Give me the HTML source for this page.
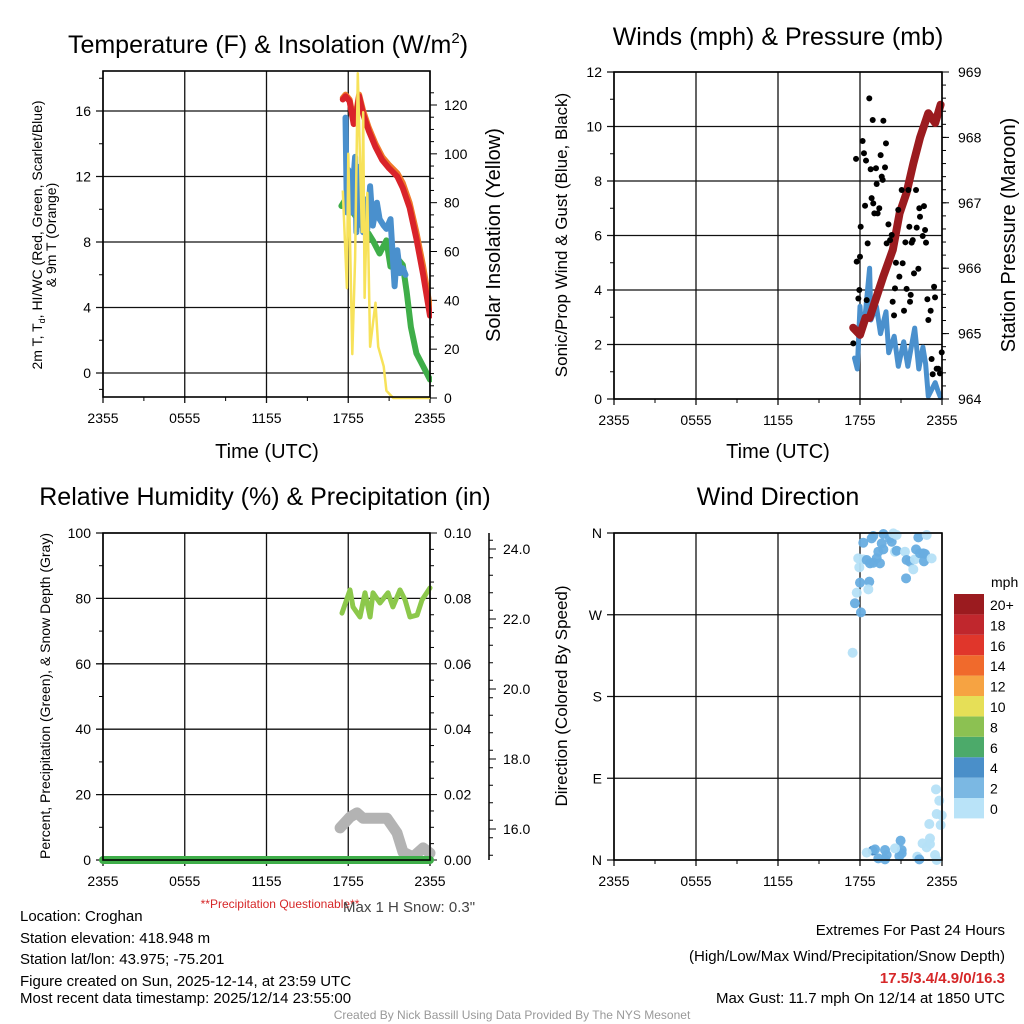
<!DOCTYPE html>
<html><head><meta charset="utf-8"><style>
html,body{margin:0;padding:0;background:#fff;}
svg{display:block;font-family:"Liberation Sans",sans-serif;}
</style></head><body>
<svg id="c" width="1024" height="1024" viewBox="0 0 1024 1024" xmlns="http://www.w3.org/2000/svg">
<rect width="1024" height="1024" fill="#fff"/>
<g id="layer"></g>
<!-- titles -->
<text x="268" y="53" font-size="25" text-anchor="middle">Temperature (F) &amp; Insolation (W/m<tspan font-size="15" dy="-10">2</tspan><tspan dy="10">)</tspan></text>
<text x="778" y="45" font-size="25" text-anchor="middle">Winds (mph) &amp; Pressure (mb)</text>
<text x="265" y="505" font-size="25" text-anchor="middle">Relative Humidity (%) &amp; Precipitation (in)</text>
<text x="778" y="505" font-size="25" text-anchor="middle">Wind Direction</text>
<!-- axis titles -->
<text x="267" y="458" font-size="20" text-anchor="middle">Time (UTC)</text>
<text x="778" y="458" font-size="20" text-anchor="middle">Time (UTC)</text>
<text transform="translate(42,235) rotate(-90)" font-size="14" text-anchor="middle">2m T, T<tspan font-size="9" dy="3">d</tspan><tspan dy="-3">, HI/WC (Red, Green, Scarlet/Blue)</tspan></text>
<text transform="translate(56,235) rotate(-90)" font-size="14" text-anchor="middle">&amp; 9m T (Orange)</text>
<text transform="translate(500,235) rotate(-90)" font-size="20" text-anchor="middle">Solar Insolation (Yellow)</text>
<text transform="translate(567,235) rotate(-90)" font-size="17" text-anchor="middle">Sonic/Prop Wind &amp; Gust (Blue, Black)</text>
<text transform="translate(1015,235) rotate(-90)" font-size="20" text-anchor="middle">Station Pressure (Maroon)</text>
<text transform="translate(50,696) rotate(-90)" font-size="14" text-anchor="middle">Percent, Precipitation (Green), &amp; Snow Depth (Gray)</text>
<text transform="translate(567,696) rotate(-90)" font-size="17" text-anchor="middle">Direction (Colored By Speed)</text>
<!-- notes -->
<text x="280" y="908" font-size="12" fill="#d62728" text-anchor="middle">**Precipitation Questionable**</text>
<text x="343" y="912" font-size="15" fill="#444">Max 1 H Snow: 0.3"</text>
<g font-size="15">
<text x="20" y="921">Location: Croghan</text>
<text x="20" y="943">Station elevation: 418.948 m</text>
<text x="20" y="964">Station lat/lon: 43.975; -75.201</text>
<text x="20" y="986">Figure created on Sun, 2025-12-14, at 23:59 UTC</text>
<text x="20" y="1003">Most recent data timestamp: 2025/12/14 23:55:00</text>
</g>
<g font-size="15" text-anchor="end">
<text x="1005" y="935">Extremes For Past 24 Hours</text>
<text x="1005" y="961">(High/Low/Max Wind/Precipitation/Snow Depth)</text>
<text x="1005" y="983" fill="#d62728" font-weight="bold">17.5/3.4/4.9/0/16.3</text>
<text x="1005" y="1003">Max Gust: 11.7 mph On 12/14 at 1850 UTC</text>
</g>
<text x="512" y="1019" font-size="12" fill="#999" text-anchor="middle">Created By Nick Bassill Using Data Provided By The NYS Mesonet</text>
</svg>
<script>
// ---- data (hours since 23:55 prior day, values) ----
const xTickLabels = ["2355","0555","1155","1755","2355"];
const tempHours = [17.6,17.8,18.1,18.4,18.6,18.8,19.1,19.5,20.0,20.5,21.0,21.6,22.0,22.5,23.0,23.5,24];
const tempValues = [16.7,16.9,16.6,15.2,15.8,16.9,15.8,14.8,13.8,13.0,12.5,12.0,11.3,10.1,8.2,6.0,3.5];
const temp9mValues = [16.8,17.0,16.7,15.4,16.0,17.0,16.0,15.0,14.0,13.2,12.7,12.2,11.6,10.4,8.6,6.5,4.0];
const dewHours = [17.5,17.8,18.2,18.6,19.0,19.5,19.8,20.3,20.8,21.1,21.5,22.0,22.3,22.6,23.0,23.5,24];
const dewValues = [10.2,10.6,10.0,9.5,9.0,8.5,8.1,7.3,8.1,6.5,7.1,6.6,4.9,2.8,1.2,0.4,-0.4];
const wcHours = [17.8,17.9,18.0,18.2,18.5,18.6,18.7,19.1,19.2,19.4,19.6,19.8,20.1,20.3,20.6,20.8,21.1,21.4,21.6,21.8,22.0,22.2];
const wcValues = [15.6,9.8,12.4,9.8,13.2,8.6,12.6,8.6,10.6,8.8,11.4,9.0,10.4,9.4,9.0,8.8,9.4,5.3,7.5,6.1,6.4,6.0];
const solarHours = [17.6,17.9,18.0,18.3,18.5,18.7,19.0,19.1,19.2,19.4,19.6,20.0,20.2,20.6,20.8,21.3,24];
const solarValues = [85,45,100,18,57,133,68,117,41,84,21,39,21,13,3,0,0];
const tempTicks = [0,4,8,12,16];
const solarTicks = [0,20,40,60,80,100,120];

const presHours = [17.5,18.0,18.4,18.7,19.7,20.4,20.9,21.4,21.9,22.4,23.0,23.5,23.9];
const presValues = [965.09,964.98,965.24,965.24,965.87,966.28,966.84,967.15,967.6,968.0,968.37,968.22,968.5];
const windHours = [17.6,17.8,18.0,18.1,18.4,18.7,18.8,19.2,19.5,19.9,20.1,20.5,20.8,21.2,21.5,22.0,22.3,22.6,22.8,23.0,23.3,23.5,23.7,23.9];
const windValues = [1.5,1.1,3.4,2.6,3.2,4.8,2.9,3.4,2.4,3.2,1.7,2.3,1.2,2.1,1.2,2.6,1.1,1.9,1.3,0.1,0.4,0.6,0.3,0.05];
const gustHours = [17.51,17.76,18.00,17.88,17.95,18.05,18.19,18.29,17.71,18.44,18.37,18.49,18.56,18.68,18.78,18.85,18.93,18.97,19.05,19.17,19.22,19.29,19.41,19.51,19.59,19.66,19.71,19.83,19.90,20.08,19.95,20.20,20.32,20.39,20.49,20.56,20.63,20.80,20.88,21.05,21.12,21.22,21.32,21.41,21.54,21.61,21.66,21.71,21.78,21.86,21.95,22.10,22.15,22.27,22.34,22.39,22.59,22.68,22.76,22.83,22.93,23.00,23.17,23.24,23.42,23.49,23.32,23.61,23.73,23.98,23.85];
const gustValues = [2.04,5.04,5.22,3.69,4.0,6.32,9.47,9.02,8.81,8.75,7.09,3.63,5.71,11.03,8.43,7.37,10.24,7.18,6.81,8.47,7.89,6.81,7.0,8.95,8.16,8.04,10.21,8.5,9.38,6.41,5.71,5.83,6.02,3.57,3.07,4.06,5.0,6.94,4.49,7.67,4.98,3.24,5.75,4.04,7.67,6.32,3.57,3.82,5.74,5.83,4.61,7.67,6.29,4.78,7.0,6.69,5.98,7.08,6.2,5.74,3.66,2.9,3.24,1.47,4.12,3.73,0.91,1.11,1.11,1.71,0.94];
const windTicks = [0,2,4,6,8,10,12];
const presTicks = [964,965,966,967,968,969];

const rhHours = [17.54,18.13,18.35,18.86,19.23,19.6,19.82,20.33,20.92,21.28,21.8,22.17,22.53,23.05,23.41,24];
const rhValues = [75.5,82.6,77.4,74.3,81.7,74.3,81.7,78.6,81.7,77.4,82.6,79.5,74.3,74.9,79.5,83.2];
const snowHours = [17.4,18.13,18.64,19.08,20.84,21.58,22.02,22.75,23.49,24];
const snowValues = [16.03,16.34,16.46,16.31,16.31,15.89,15.34,15.2,15.46,15.31];
const precipHours = [0,24];
const precipValues = [0,0];
const rhTicks = [0,20,40,60,80,100];
const precipTicks = ["0.00","0.02","0.04","0.06","0.08","0.10"];
const snowTicks = [16,18,20,22,24];

const dirHours = [18.24,18.85,18.97,19.71,19.59,20.19,20.32,20.44,20.68,19.34,19.71,19.22,18.97,19.46,18.24,17.87,18.49,18.73,17.95,18.0,18.68,17.76,18.61,17.63,18.07,17.46,20.56,20.68,21.29,21.41,21.65,22.02,21.9,21.37,22.27,22.88,22.1,22.39,22.63,22.76,22.68,23.24,23.56,23.8,23.61,23.98,23.07,23.9,23.12,22.58,23.12,22.88,20.97,21.05,20.88,21.05,20.56,19.83,19.95,19.34,18.93,19.1,18.49,19.83,22.19,22.34,23.49,23.61];
const dirValues = [349.3,354.1,356.7,358.9,348.6,354.1,350.4,359.6,357.8,339.4,342.0,332.1,327.3,326.6,331.0,332.1,330.3,326.6,322.2,305.3,306.4,294.3,298.0,282.6,272.6,228.2,339.4,340.5,339.4,330.3,328.4,331.0,320.0,310.1,355.2,357.8,342.0,337.6,337.6,336.9,328.8,332.1,77.8,65.3,50.6,49.2,39.6,38.5,23.8,18.3,17.6,13.9,21.3,11.0,4.4,7.3,12.8,11.0,5.5,1.8,10.3,11.7,8.1,0.7,3.7,0.7,5.5,0.0];
const dirSpeeds = [3,3,3,3,3,3,3,1,1,3,3,3,3,3,1,1,3,3,1,3,3,1,1,3,3,1,1,3,1,3,3,1,1,3,3,1,3,3,3,3,3,1,1,1,1,1,1,1,1,1,1,1,3,3,3,3,1,3,3,3,5,3,1,3,1,3,1,1];
const dirTicks = ["N","E","S","W","N"];
const speedLabels = ["0","2","4","6","8","10","12","14","16","18","20+"];
const speedColors = ["#b9e3f8","#7bb8e3","#4a8fc9","#4caa6a","#8cc152","#e6df57","#f6a342","#f06a2c","#e0362b","#c0272d","#9b1b1f"];
const dotColors = ["#b5e0f7","#68ade0","#3f85c2"];

// ---- helpers ----
const NS="http://www.w3.org/2000/svg";
const layer=document.getElementById('layer');
function mk(tag,attrs,parent){const e=document.createElementNS(NS,tag);for(const k in attrs)e.setAttribute(k,attrs[k]);(parent||layer).appendChild(e);return e;}
function scale(d0,d1,r0,r1){return v=>r0+(v-d0)/(d1-d0)*(r1-r0);}
function path(xs,ys,fx,fy){return xs.map((h,i)=>(i?'L':'M')+fx(h).toFixed(1)+','+fy(ys[i]).toFixed(1)).join(' ');}

function panel(L,R,T,B,name){
  const fx=scale(0,24,L,R);
  const g=mk('g',{});
  
  
  for(let i=0;i<5;i++){
    const x=fx(i*6);
    const vl=mk('line',{x1:x,y1:T,x2:x,y2:B+6,stroke:'#111','stroke-width':1.3},g);
    
    
    const t=mk('text',{x:x,y:B+26,'font-size':14,'text-anchor':'middle'},g);
    t.textContent=xTickLabels[i];
    
    
  }
  for(let i=0;i<4;i++){mk('line',{x1:fx(i*6+3),y1:B,x2:fx(i*6+3),y2:B+4,stroke:'#000'},g);}
  return {fx,g};
}
function hgrid(g,L,R,y,label){
  const l=mk('line',{x1:L-7,y1:y,x2:R,y2:y,stroke:'#111','stroke-width':1.3},g);
  
  
  if(label!==null){const t=mk('text',{x:L-12,y:y+5,'font-size':14,'text-anchor':'end'},g);t.textContent=label;
  
  }
}
function frame(L,R,T,B){mk('rect',{x:L,y:T,width:R-L,height:B-T,fill:'none',stroke:'#000','stroke-width':1.6});}

// ---- Panel 1: temperature ----
(function(){
  const L=103,R=430,T=71,B=397;
  const {fx,g}=panel(L,R,T,B,'temperature');
  const fy=scale(0,16,373,111);
  const fs=scale(0,120,398,105);
  tempTicks.forEach(v=>hgrid(g,L,R,fy(v),String(v)));
  [-1,2,6,10,14,18].forEach(v=>mk('line',{x1:L-4,y1:fy(v),x2:L,y2:fy(v),stroke:'#000'}));
  solarTicks.forEach(v=>{mk('line',{x1:R,y1:fs(v),x2:R+7,y2:fs(v),stroke:'#000'});
    const t=mk('text',{x:R+14,y:fs(v)+5,'font-size':14});t.textContent=v;
    
    });
  for(let v=5;v<130;v+=5){if(v%20)mk('line',{x1:R,y1:fs(v),x2:R+4,y2:fs(v),stroke:'#000'});}
  const cp=mk('clipPath',{id:'cp1'});mk('rect',{x:L,y:T-5,width:R-L+2,height:B-T+5},cp);
  const s=mk('g',{'clip-path':'url(#cp1)',fill:'none','stroke-linejoin':'round','stroke-linecap':'round'});
  const p1=mk('path',{d:path(dewHours,dewValues,fx,fy),stroke:'#3fae49','stroke-width':6},s);
  
  
  const p2=mk('path',{d:path(wcHours,wcValues,fx,fy),stroke:'#4a90cd','stroke-width':6},s);
  
  
  const p3=mk('path',{d:path(tempHours,temp9mValues,fx,fy),stroke:'#f07a2a','stroke-width':6},s);
  
  
  const p4=mk('path',{d:path(tempHours,tempValues,fx,fy),stroke:'#d9232a','stroke-width':6},s);
  
  
  const sp=mk('g',{fill:'none'});
  const p5=mk('path',{d:path(solarHours,solarValues,fx,fs),stroke:'#f7e25a','stroke-width':2.5,fill:'none','stroke-linejoin':'round'},sp);
  
  
  frame(L,R,T,B);
})();

// ---- Panel 2: winds ----
(function(){
  const L=614,R=942,T=72,B=399;
  const {fx,g}=panel(L,R,T,B,'winds');
  const fy=scale(0,12,B,T);
  const fp=scale(964,969,B,T);
  windTicks.forEach(v=>hgrid(g,L,R,fy(v),String(v)));
  for(let v=1;v<12;v+=2)mk('line',{x1:L-4,y1:fy(v),x2:L,y2:fy(v),stroke:'#000'});
  presTicks.forEach(v=>{mk('line',{x1:R,y1:fp(v),x2:R+7,y2:fp(v),stroke:'#000'});
    const t=mk('text',{x:R+16,y:fp(v)+5,'font-size':14});t.textContent=v;
    
    });
  for(let v=964.2;v<969;v+=0.2){mk('line',{x1:R,y1:fp(v),x2:R+4,y2:fp(v),stroke:'#000'});}
  const s=mk('g',{fill:'none','stroke-linejoin':'round','stroke-linecap':'round'});
  const w=mk('path',{d:path(windHours,windValues,fx,fy),stroke:'#4a90cd','stroke-width':5},s);
  
  
  const p=mk('path',{d:path(presHours,presValues,fx,fp),stroke:'#9b1b1f','stroke-width':8},s);
  
  
  gustHours.forEach((h,i)=>{const c=mk('circle',{cx:fx(h),cy:fy(gustValues[i]),r:3,fill:'#000'});
    
    });
  frame(L,R,T,B);
})();

// ---- Panel 3: humidity ----
(function(){
  const L=103,R=430,T=533,B=860;
  const {fx,g}=panel(L,R,T,B,'humidity');
  const fy=scale(0,100,B,T);
  const fsn=scale(16,24,829,549);
  rhTicks.forEach((v,i)=>{hgrid(g,L,R,fy(v),String(v));
    mk('line',{x1:R,y1:fy(v),x2:R+7,y2:fy(v),stroke:'#000'});
    const t=mk('text',{x:R+14,y:fy(v)+5,'font-size':14});t.textContent=precipTicks[i];
    
    });
  for(let v=5;v<100;v+=5){if(v%20)mk('line',{x1:R,y1:fy(v),x2:R+4,y2:fy(v),stroke:'#000'});}
  for(let v=10;v<100;v+=20)mk('line',{x1:L-4,y1:fy(v),x2:L,y2:fy(v),stroke:'#000'});
  mk('line',{x1:489,y1:T,x2:489,y2:B,stroke:'#000','stroke-width':1.5});
  snowTicks.forEach(v=>{mk('line',{x1:489,y1:fsn(v),x2:496,y2:fsn(v),stroke:'#000'});
    const t=mk('text',{x:503,y:fsn(v)+5,'font-size':14});t.textContent=v.toFixed(1);
    
    });
  for(let v=15.25;v<24.6;v+=0.5){if(Math.abs(v-Math.round(v/2)*2)>0.1)mk('line',{x1:489,y1:fsn(v),x2:493,y2:fsn(v),stroke:'#000'});}
  const s=mk('g',{fill:'none','stroke-linejoin':'round','stroke-linecap':'round'});
  const sn=mk('path',{d:path(snowHours,snowValues,fx,fsn),stroke:'#b3b3b3','stroke-width':11},s);
  
  
  const pr=mk('path',{d:path(precipHours,precipValues,fx,v=>fy(v*1000)),stroke:'#3fae49','stroke-width':8},s);
  
  
  const rh=mk('path',{d:path(rhHours,rhValues,fx,fy),stroke:'#8cc84b','stroke-width':5},s);
  
  
  frame(L,R,T,B);
})();

// ---- Panel 4: wind direction ----
(function(){
  const L=614,R=942,T=533,B=860;
  const {fx,g}=panel(L,R,T,B,'direction');
  const fy=scale(0,360,B,T);
  dirTicks.forEach((lab,i)=>hgrid(g,L,R,fy(i*90),lab));
  dirHours.forEach((h,i)=>{const idx=Math.min(2,Math.floor(dirSpeeds[i]/2));
    const c=mk('circle',{cx:fx(h),cy:fy(dirValues[i]),r:5,fill:dotColors[idx],'fill-opacity':0.95});
    
    });
  frame(L,R,T,B);
  // colorbar
  const cb=mk('g',{});
  
  
  const t0=mk('text',{x:991,y:587,'font-size':14},cb);t0.textContent='mph';
  const top=594,h=20.4;
  speedColors.forEach((col,i)=>{const y=top+(10-i)*h;
    mk('rect',{x:954,y:y,width:30,height:h,fill:col},cb);
    const t=mk('text',{x:990,y:y+16,'font-size':14},cb);t.textContent=speedLabels[i];
    
    });
})();
</script>
</body></html>
